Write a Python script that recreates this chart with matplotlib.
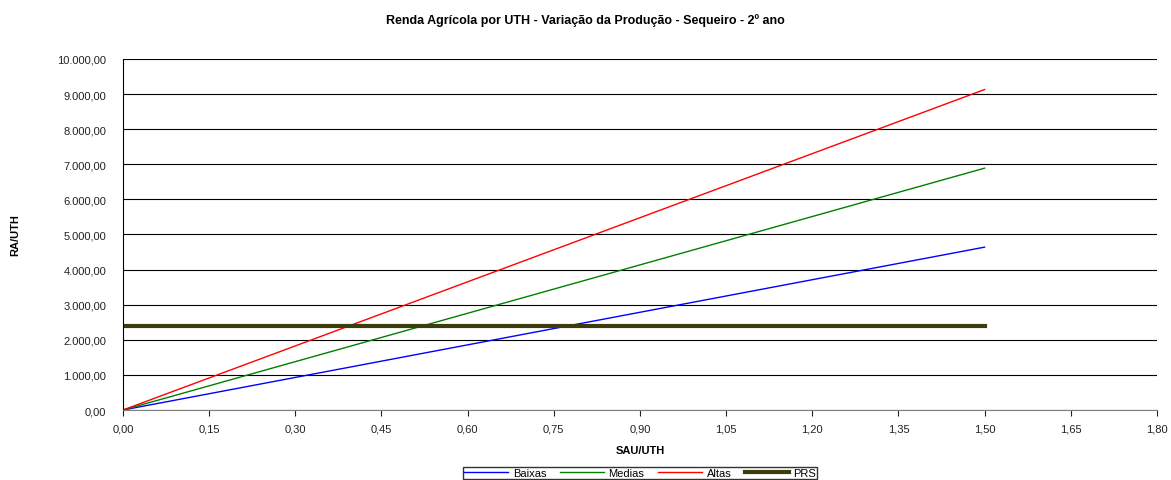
import matplotlib.pyplot as plt
from matplotlib.ticker import FuncFormatter

plt.rcParams['font.family'] = ['Liberation Sans', 'DejaVu Sans']

sau_uth = [0.0, 0.15, 0.30, 0.45, 0.60, 0.75, 0.90, 1.05, 1.20, 1.35, 1.50]
baixas = [0, 464, 928, 1392, 1856, 2320, 2784, 3248, 3712, 4176, 4640]
medias = [0, 689, 1378, 2067, 2756, 3445, 4134, 4823, 5512, 6201, 6890]
altas = [0, 913, 1826, 2739, 3652, 4565, 5478, 6391, 7304, 8217, 9130]
prs = [2390] * 11


def pt_fmt(v, decimals=2):
    s = f"{v:,.{decimals}f}"
    return s.replace(",", "X").replace(".", ",").replace("X", ".")


fig = plt.figure(figsize=(11.71, 4.81), dpi=100)
ax = fig.add_axes([0.105, 0.1455, 0.883, 0.7298])

ax.plot(sau_uth, baixas, color='#0000ff', lw=1.0, label='Baixas')
ax.plot(sau_uth, medias, color='#008000', lw=1.0, label='Medias')
ax.plot(sau_uth, altas, color='#ff0000', lw=1.0, label='Altas')
ax.plot(sau_uth, prs, color='#3c3c0c', lw=3.0, label='PRS')

ax.set_xlim(0, 1.8)
ax.set_ylim(0, 10000)
ax.set_xticks([i * 0.15 for i in range(13)])
ax.set_yticks(range(0, 10001, 1000))
ax.xaxis.set_major_formatter(FuncFormatter(lambda v, p: pt_fmt(v)))
ax.yaxis.set_major_formatter(FuncFormatter(lambda v, p: pt_fmt(v)))
ax.tick_params(labelsize=8, colors='#222222', length=4, width=0.8)
ax.tick_params(axis='y', length=0, pad=12)
ax.tick_params(axis='x', pad=6)
ax.yaxis.grid(True, color='black', lw=0.8)
ax.set_axisbelow(True)

for s in ['top', 'right']:
    ax.spines[s].set_visible(False)
ax.spines['left'].set_color('black')
ax.spines['bottom'].set_color('#808080')

ax.set_xlabel('SAU/UTH', fontsize=8, fontweight='bold', labelpad=8)
ax.set_ylabel('RA/UTH', fontsize=8, fontweight='bold', labelpad=27)
fig.suptitle('Renda Agrícola por UTH - Variação da Produção - Sequeiro - 2º ano',
             fontsize=9, fontweight='bold', y=0.97)

fig.legend(loc='center', bbox_to_anchor=(640 / 1171, 1 - 474 / 481), ncol=4,
           fontsize=8, frameon=True, fancybox=False, edgecolor='black',
           borderpad=0.1, handlelength=4, columnspacing=1.2, handletextpad=0.4)

fig.savefig('out.png', dpi=100)
